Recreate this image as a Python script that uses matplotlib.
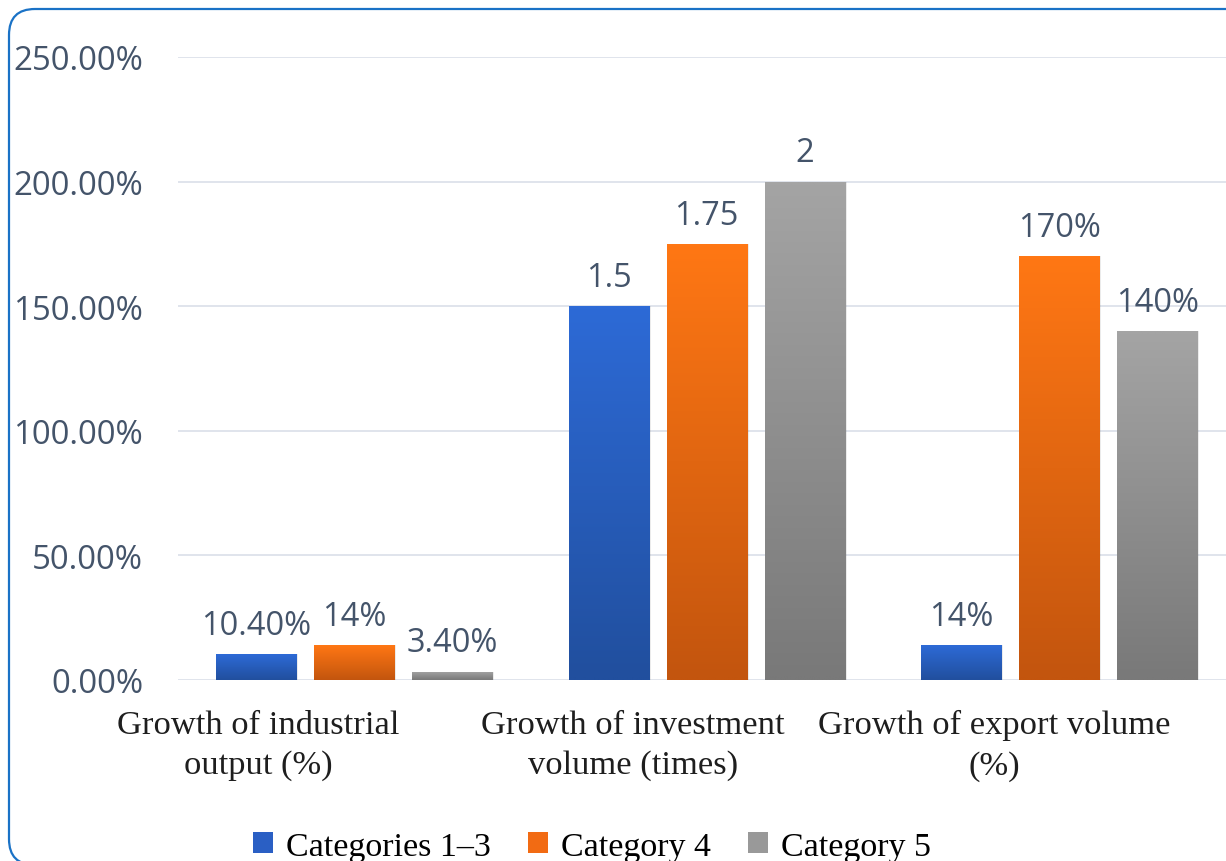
import matplotlib.pyplot as plt
import numpy as np
from matplotlib.patches import FancyBboxPatch, Rectangle, Patch
from matplotlib.transforms import IdentityTransform, blended_transform_factory

# indicator groups and the three series (bar heights in %)
indicators = ['Growth of industrial\noutput (%)',
              'Growth of investment\nvolume (times)',
              'Growth of export volume\n(%)']
series_names = ['Categories 1\u20133', 'Category 4', 'Category 5']
cat_1_3 = [10.4, 150, 14]
cat_4 = [14, 175, 170]
cat_5 = [3.4, 200, 140]
# value labels as printed over each bar
labels_1_3 = ['10.40%', '1.5', '14%']
labels_4 = ['14%', '1.75', '170%']
labels_5 = ['3.40%', '2', '140%']
y_ticks = [0, 50, 100, 150, 200, 250]

# (top colour, bottom colour) of each series gradient
grad_colors = [('#2D6AD6', '#214F9E'), ('#FF7714', '#C3550E'), ('#A4A4A4', '#797979')]
legend_colors = ['#2A5FC4', '#F26B13', '#999999']
text_col = '#44546A'

fig = plt.figure(figsize=(12.26, 8.62), dpi=100)
ax = fig.add_axes([178 / 1226, 181 / 862, 1057.5 / 1226, 623 / 862])

x = np.arange(len(indicators))
width = 0.227
step = 0.278

all_series = [cat_1_3, cat_4, cat_5]
all_labels = [labels_1_3, labels_4, labels_5]

for k, (vals, labs) in enumerate(zip(all_series, all_labels)):
    pos = x + (k - 1) * step
    bars = ax.bar(pos, vals, width, color='none', zorder=3)
    top_c, bot_c = grad_colors[k]
    c1 = np.array(plt.matplotlib.colors.to_rgb(top_c))
    c2 = np.array(plt.matplotlib.colors.to_rgb(bot_c))
    t = np.linspace(0, 1, 64)[:, None]
    grad = (c1 * (1 - t) + c2 * t)[:, None, :]
    for b, lab in zip(bars, labs):
        bx, by = b.get_x(), b.get_y()
        bw, bh = b.get_width(), b.get_height()
        # soft shadow on the right side
        ax.add_patch(Rectangle((bx + 0.006, by), bw, bh, facecolor='#000000',
                               alpha=0.08, edgecolor='none', zorder=2))
        im = ax.imshow(grad, extent=(bx, bx + bw, by, by + bh), aspect='auto',
                       zorder=3, interpolation='bilinear')
        im.set_clip_path(b)
        ax.annotate(lab, (bx + bw / 2, by + bh), xytext=(0, 14.5),
                    textcoords='offset points', ha='center', va='baseline',
                    fontsize=23.5, color=text_col, family='Open Sans', zorder=4)

ax.set_xlim(-0.5, 2.5)
ax.set_ylim(0, 250)
ax.set_yticks(y_ticks)
ax.set_yticklabels(['%.2f%%' % v for v in y_ticks], family='Open Sans',
                   fontsize=23.8, color=text_col)
ax.tick_params(axis='y', length=0, pad=25)
ax.set_xticks([])
ax.grid(axis='y', color='#DDE2EA', linewidth=1.3, zorder=0)
ax.set_axisbelow(True)
for s in ax.spines.values():
    s.set_visible(False)

# category names sit a little left of the bar groups
label_x = [-0.272, 0.79, 1.816]
trans = blended_transform_factory(ax.transData, ax.transAxes)
for lx, name in zip(label_x, indicators):
    ax.annotate(name, (lx, 0), xycoords=trans, xytext=(0, -21),
                textcoords='offset points', ha='center', va='top',
                fontsize=24.8, family='Liberation Serif', color='#1E1E1E',
                linespacing=1.42, annotation_clip=False)

handles = [Patch(facecolor=c, edgecolor='none') for c in legend_colors]
fig.legend(handles, series_names, loc='center', bbox_to_anchor=(0.483, 0.017),
           ncol=3, frameon=False, handlelength=0.58, handleheight=0.58,
           handletextpad=0.38, columnspacing=1.1,
           prop={'family': 'Liberation Serif', 'size': 24.5})

# rounded blue frame around the chart
frame = FancyBboxPatch((9, -4), 1250, 856, boxstyle='round,pad=0,rounding_size=26',
                       transform=IdentityTransform(), facecolor='none',
                       edgecolor='#1A72C6', linewidth=1.6)
fig.add_artist(frame)

fig.savefig('out.png', dpi=100)
